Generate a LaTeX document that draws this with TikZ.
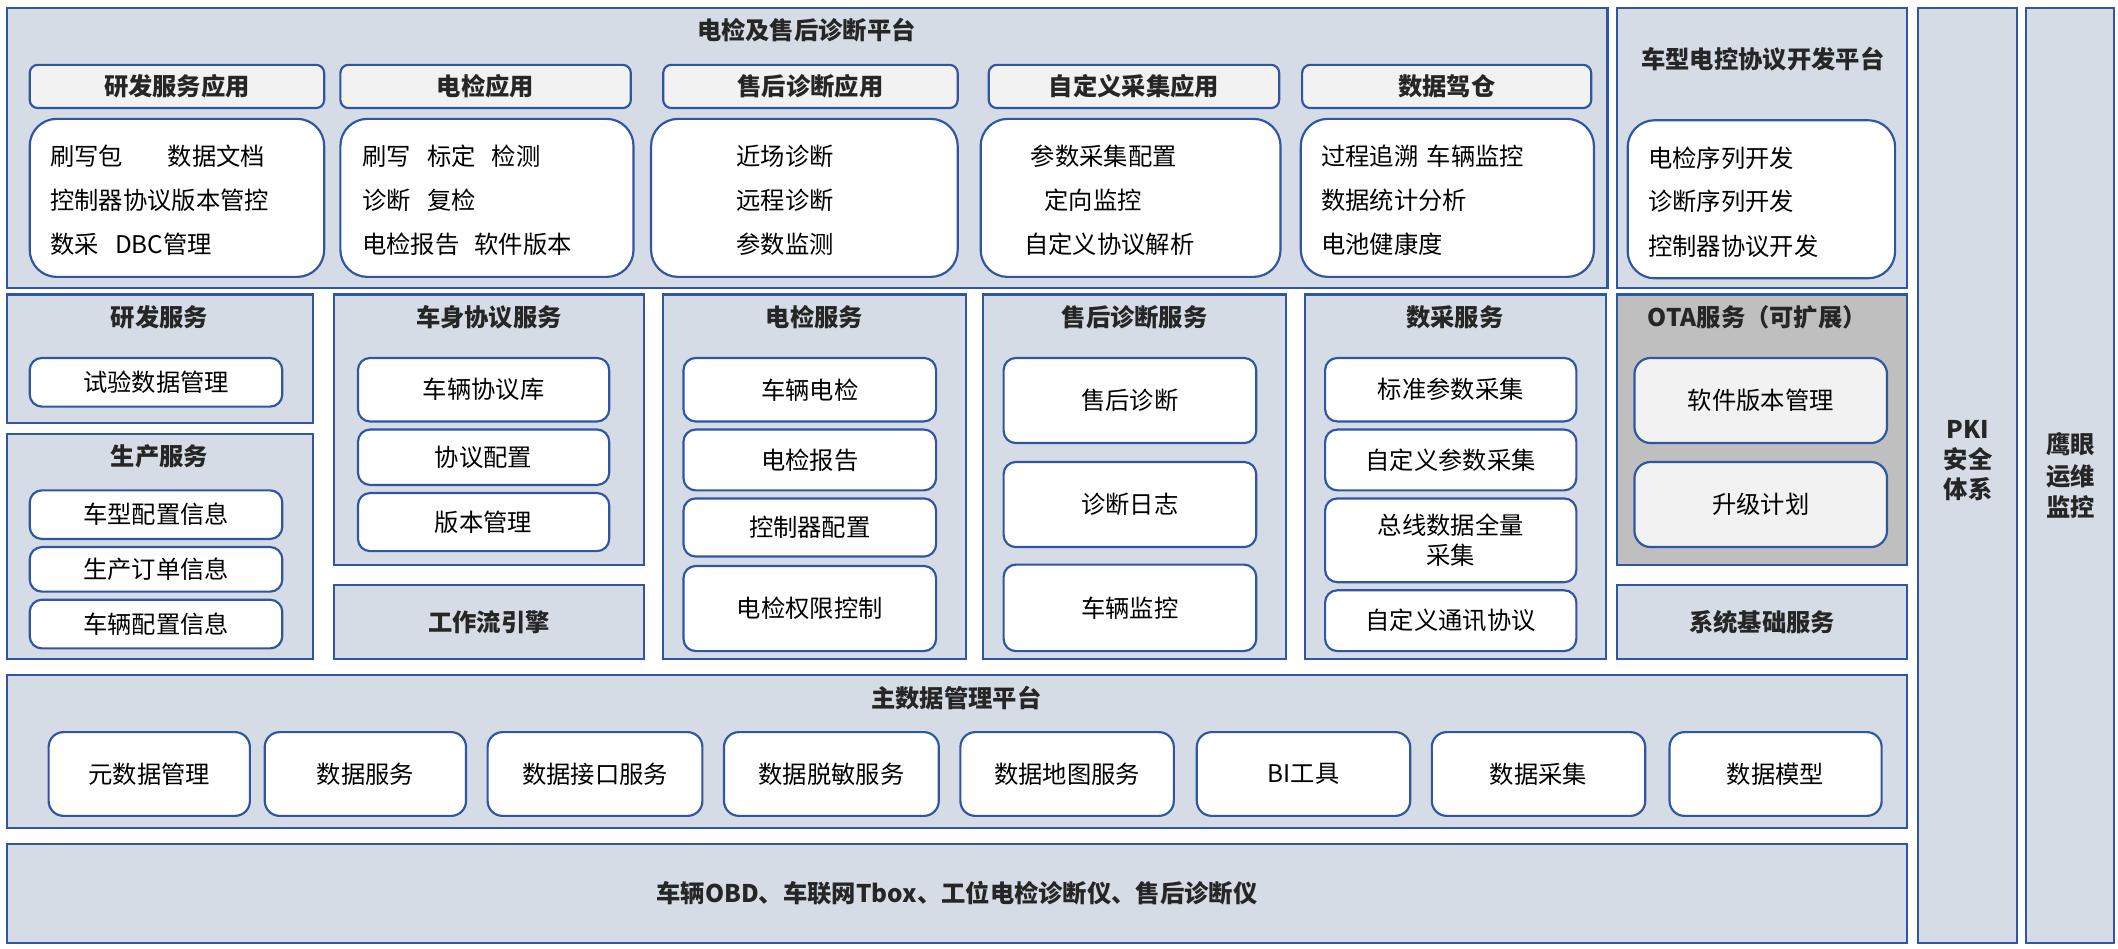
\documentclass[tikz,border=0pt]{standalone}
\usepackage{fontspec}
\setmainfont{Noto Sans CJK SC}
\definecolor{bordc}{HTML}{2F55A3}
\definecolor{panelc}{HTML}{D6DCE5}
\definecolor{hdrc}{HTML}{F2F2F2}
\definecolor{otac}{HTML}{BFBFBF}
\definecolor{ttlc}{HTML}{262626}
\newcommand\mybox[6]{\node[#1, minimum width={(#5-#3)*1pt}, minimum height={(#6-#4)*1pt}] (#2) at ({(#3+#5)/2}, {-(#4+#6)/2}) {};}
\tikzset{
  base/.style={draw=bordc, line width=1.6pt, inner sep=0pt, outer sep=0pt, rectangle},
  panel/.style={base, fill=panelc},
  otapanel/.style={base, fill=otac},
  hdr/.style={base, fill=hdrc, rounded corners=6pt},
  content/.style={base, fill=white, rounded corners=20pt},
  item/.style={base, fill=white, rounded corners=9pt},
  gitem/.style={base, fill=hdrc, rounded corners=12pt},
  mitem/.style={base, fill=white, rounded corners=11pt},
  ttl/.style={font=\fontsize{18}{22}\selectfont\bfseries, text=ttlc, inner sep=0pt},
  txt/.style={font=\fontsize{18}{22}\selectfont, text=black, inner sep=0pt},
  ltxt/.style={txt, anchor=west}
}
\begin{document}
\begin{tikzpicture}[x=1pt,y=1pt]
\useasboundingbox (0,0) rectangle (1568,-702);
% ---------- top platform
\mybox{panel}{plat}{5}{6}{1190}{213}
\node[ttl] (platT) at (597,-22) {电检及售后诊断平台};
\mybox{hdr}{h1}{22}{48}{240}{80}
\mybox{hdr}{h2}{252}{48}{467}{80}
\mybox{hdr}{h3}{491}{48}{709}{80}
\mybox{hdr}{h4}{732}{48}{947}{80}
\mybox{hdr}{h5}{964}{48}{1178}{80}
\node[ttl] (h1t) at (h1) {研发服务应用};
\node[ttl] (h2t) at (h2) {电检应用};
\node[ttl] (h3t) at (h3) {售后诊断应用};
\node[ttl] (h4t) at (h4) {自定义采集应用};
\node[ttl] (h5t) at (h5) {数据驾仓};
\mybox{content}{c1}{22}{88}{240}{205}
\mybox{content}{c2}{252}{88}{469}{205}
\mybox{content}{c3}{482}{88}{709}{205}
\mybox{content}{c4}{726}{88}{948}{205}
\mybox{content}{c5}{963}{88}{1180}{205}
\node[ltxt] (c1a) at (37,-116) {刷写包\hspace{33pt}数据文档};
\node[ltxt] (c1b) at (37,-148) {控制器协议版本管控};
\node[ltxt] (c1c) at (37,-181) {数采\hspace{12pt}DBC管理};
\node[ltxt] (c2a) at (268,-116) {刷写\hspace{12pt}标定\hspace{12pt}检测};
\node[ltxt] (c2b) at (268,-148) {诊断\hspace{12pt}复检};
\node[ltxt] (c2c) at (268,-181) {电检报告\hspace{11pt}软件版本};
\node[ltxt] (c3a) at (545,-116) {近场诊断};
\node[ltxt] (c3b) at (545,-148) {远程诊断};
\node[ltxt] (c3c) at (545,-181) {参数监测};
\node[ltxt] (c4a) at (763,-116) {参数采集配置};
\node[ltxt] (c4b) at (773,-148) {定向监控};
\node[ltxt] (c4c) at (758,-181) {自定义协议解析};
\node[ltxt] (c5a) at (978,-116) {过程追溯\hspace{6pt}车辆监控};
\node[ltxt] (c5b) at (978,-148) {数据统计分析};
\node[ltxt] (c5c) at (978,-181) {电池健康度};
% ---------- vehicle protocol platform
\mybox{panel}{cx}{1197}{6}{1412}{213}
\node[ttl] (cxT) at (1305,-44) {车型电控协议开发平台};
\mybox{content}{c6}{1205}{89}{1403}{206}
\node[ltxt] (c6a) at (1220,-117) {电检序列开发};
\node[ltxt] (c6b) at (1220,-149) {诊断序列开发};
\node[ltxt] (c6c) at (1220,-182) {控制器协议开发};
% ---------- vertical bars
\mybox{panel}{pki}{1420}{6}{1493}{698}
\node[ttl, align=center, font=\fontsize{18}{22.5}\selectfont\bfseries] (pkiT) at (1457,-341) {PKI\\安全\\体系};
\mybox{panel}{yy}{1500}{6}{1565}{698}
\node[ttl, align=center, font=\fontsize{18}{23.5}\selectfont\bfseries] (yyT) at (1533,-352) {鹰眼\\运维\\监控};
% ---------- row 2
\mybox{panel}{yf}{5}{218}{232}{313}
\node[ttl] (yfT) at (118,-235) {研发服务};
\mybox{item}{yf1}{22}{265}{209}{301}
\node[txt] at (yf1) {试验数据管理};
\mybox{panel}{sc}{5}{321}{232}{488}
\node[ttl] (scT) at (118,-338) {生产服务};
\mybox{item}{sc1}{22}{363}{209}{399}
\mybox{item}{sc2}{22}{405}{209}{438}
\mybox{item}{sc3}{22}{444}{209}{480}
\node[txt] at (sc1) {车型配置信息};
\node[txt] at (sc2) {生产订单信息};
\node[txt] at (sc3) {车辆配置信息};
\mybox{panel}{cs}{247}{218}{477}{418}
\node[ttl] (csT) at (362,-235) {车身协议服务};
\mybox{item}{cs1}{265}{265}{451}{312}
\mybox{item}{cs2}{265}{318}{451}{359}
\mybox{item}{cs3}{265}{365}{451}{408}
\node[txt] at (cs1) {车辆协议库};
\node[txt] at (cs2) {协议配置};
\node[txt] at (cs3) {版本管理};
\mybox{panel}{gz}{247}{433}{477}{488}
\node[ttl] (gzT) at (gz) {工作流引擎};
\mybox{panel}{dj}{491}{218}{715}{488}
\node[ttl] (djT) at (603,-235) {电检服务};
\mybox{item}{dj1}{506}{265}{693}{312}
\mybox{item}{dj2}{506}{318}{693}{363}
\mybox{item}{dj3}{506}{369}{693}{412}
\mybox{item}{dj4}{506}{419}{693}{482}
\node[txt] at (dj1) {车辆电检};
\node[txt] at (dj2) {电检报告};
\node[txt] at (dj3) {控制器配置};
\node[txt] at (dj4) {电检权限控制};
\mybox{panel}{sh}{728}{218}{952}{488}
\node[ttl] (shT) at (840,-235) {售后诊断服务};
\mybox{item}{sh1}{743}{265}{930}{328}
\mybox{item}{sh2}{743}{342}{930}{405}
\mybox{item}{sh3}{743}{418}{930}{482}
\node[txt] at (sh1) {售后诊断};
\node[txt] at (sh2) {诊断日志};
\node[txt] at (sh3) {车辆监控};
\mybox{panel}{sca}{966}{218}{1189}{488}
\node[ttl] (scaT) at (1077,-235) {数采服务};
\mybox{item}{sa1}{981}{265}{1167}{312}
\mybox{item}{sa2}{981}{318}{1167}{363}
\mybox{item}{sa3}{981}{369}{1167}{431}
\mybox{item}{sa4}{981}{437}{1167}{482}
\node[txt] at (sa1) {标准参数采集};
\node[txt] at (sa2) {自定义参数采集};
\node[txt, align=center, font=\fontsize{18}{22}\selectfont] at (sa3) {总线数据全量\\采集};
\node[txt] at (sa4) {自定义通讯协议};
\mybox{otapanel}{ota}{1197}{218}{1412}{418}
\node[ttl] (otaT) at (1301,-235) {OTA服务（可扩展）};
\mybox{gitem}{ota1}{1210}{265}{1397}{328}
\mybox{gitem}{ota2}{1210}{342}{1397}{405}
\node[txt] at (ota1) {软件版本管理};
\node[txt] at (ota2) {升级计划};
\mybox{panel}{xt}{1197}{433}{1412}{488}
\node[ttl] (xtT) at (xt) {系统基础服务};
% ---------- master data
\mybox{panel}{md}{5}{500}{1412}{613}
\node[ttl] (mdT) at (708,-517) {主数据管理平台};
\mybox{mitem}{m1}{36}{542}{185}{604}
\mybox{mitem}{m2}{196}{542}{345}{604}
\mybox{mitem}{m3}{361}{542}{520}{604}
\mybox{mitem}{m4}{536}{542}{695}{604}
\mybox{mitem}{m5}{711}{542}{869}{604}
\mybox{mitem}{m6}{886}{542}{1044}{604}
\mybox{mitem}{m7}{1060}{542}{1218}{604}
\mybox{mitem}{m8}{1236}{542}{1393}{604}
\node[txt] at (m1) {元数据管理};
\node[txt] at (m2) {数据服务};
\node[txt] at (m3) {数据接口服务};
\node[txt] at (m4) {数据脱敏服务};
\node[txt] at (m5) {数据地图服务};
\node[txt] at (m6) {BI工具};
\node[txt] at (m7) {数据采集};
\node[txt] at (m8) {数据模型};
% ---------- devices
\mybox{panel}{dev}{5}{625}{1412}{698}
\node[ttl] (devT) at (dev) {车辆OBD、车联网Tbox、工位电检诊断仪、售后诊断仪};
\end{tikzpicture}
\end{document}
